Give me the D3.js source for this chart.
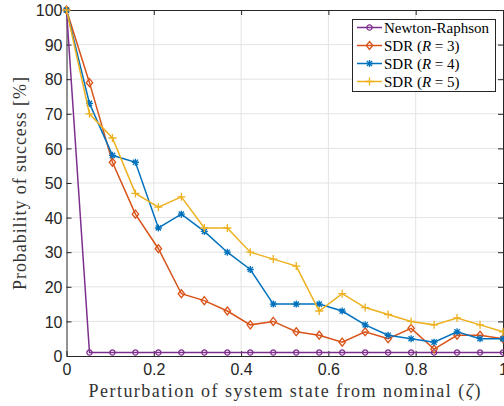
<!DOCTYPE html>
<html>
<head>
<meta charset="utf-8">
<script src="https://cdn.jsdelivr.net/npm/d3@7"></script>
<style>
body { margin: 0; background: #fff; }
svg { display: block; }
</style>
</head>
<body>
<div id="canvas"></div>
<script>
// data (20 perturbation levels, 0..1)
var zeta = d3.range(20).map(function(i){ return i / 19; });
var newton = [100, 1, 1, 1, 1, 1, 1, 1, 1, 1, 1, 1, 1, 1, 1, 1, 1, 1, 1, 1];
var sdr3 = [100, 79, 56, 41, 31, 18, 16, 13, 9, 10, 7, 6, 4, 7, 5, 8, 2, 6, 6, 5];
var sdr4 = [100, 73, 58, 56, 37, 41, 36, 30, 25, 15, 15, 15, 13, 9, 6, 5, 4, 7, 5, 5];
var sdr5 = [100, 70, 63, 47, 43, 46, 37, 37, 30, 28, 26, 13, 18, 14, 12, 10, 9, 11, 9, 7];
var xTicks = [0, 0.2, 0.4, 0.6, 0.8, 1];
var yTicks = [0, 10, 20, 30, 40, 50, 60, 70, 80, 90, 100];

var series = [
    {name:'Newton-Raphson', r:null, values:newton, color:'#7E2F8E', marker:'circle'},
    {name:'SDR', r:3, values:sdr3, color:'#D95319', marker:'diamond'},
    {name:'SDR', r:4, values:sdr4, color:'#0072BD', marker:'asterisk'},
    {name:'SDR', r:5, values:sdr5, color:'#EDB120', marker:'plus'}
];

(function(){
// layout
var W = 504, H = 406;
var pLeft = 66.5, pRight = 503, pTop = 10, pBottom = 356;

var x = d3.scaleLinear().domain([0, 1]).range([pLeft, pRight]);
var y = d3.scaleLinear().domain([0, 100]).range([pBottom, pTop]);

var svg = d3.select('#canvas')
    .append('svg')
    .attr('width', W)
    .attr('height', H);

// grid
svg.append('g').selectAll('line')
    .data(xTicks.slice(1, -1))
    .enter().append('line')
    .attr('x1', function(d){ return x(d); })
    .attr('x2', function(d){ return x(d); })
    .attr('y1', pTop).attr('y2', pBottom)
    .attr('stroke', '#e3e3e3').attr('stroke-width', 1);
svg.append('g').selectAll('line')
    .data(yTicks.slice(1, -1))
    .enter().append('line')
    .attr('y1', function(d){ return y(d); })
    .attr('y2', function(d){ return y(d); })
    .attr('x1', pLeft).attr('x2', pRight)
    .attr('stroke', '#e3e3e3').attr('stroke-width', 1);

// axes (box with inward ticks)
var tick = 5;
var xb = svg.append('g').attr('transform', 'translate(0,' + pBottom + ')')
    .call(d3.axisBottom(x).tickValues(xTicks).tickSizeInner(-tick).tickSizeOuter(0)
        .tickFormat(function(d){ return d === 0 ? '0' : (d === 1 ? '1' : d3.format('.1f')(d)); }));
var xt = svg.append('g').attr('transform', 'translate(0,' + pTop + ')')
    .call(d3.axisTop(x).tickValues(xTicks).tickSizeInner(-tick).tickSizeOuter(0).tickFormat(''));
var yl = svg.append('g').attr('transform', 'translate(' + pLeft + ',0)')
    .call(d3.axisLeft(y).tickValues(yTicks).tickSizeInner(-tick).tickSizeOuter(0));
var yr = svg.append('g').attr('transform', 'translate(' + pRight + ',0)')
    .call(d3.axisRight(y).tickValues(yTicks).tickSizeInner(-tick).tickSizeOuter(0).tickFormat(''));

[xb, xt, yl, yr].forEach(function(g){
    g.select('.domain').attr('stroke', '#262626').attr('stroke-width', 1);
    g.selectAll('.tick line').attr('stroke', '#262626');
    g.selectAll('text')
        .attr('fill', '#262626')
        .style('font-family', '"Liberation Sans", Arial, sans-serif')
        .style('font-size', '16px');
});
xb.selectAll('text').attr('dy', null).attr('y', 19);
yl.selectAll('text').attr('x', -4).attr('dy', '0.36em');

// lines
var line = d3.line()
    .x(function(d){ return x(d[0]); })
    .y(function(d){ return y(d[1]); });

function drawMarker(g, type, color) {
    if (type === 'circle') {
        g.append('circle').attr('r', 2.6)
            .attr('fill', 'none').attr('stroke', color).attr('stroke-width', 1.3);
    } else if (type === 'diamond') {
        g.append('path').attr('d', 'M0,-4L3.2,0L0,4L-3.2,0Z')
            .attr('fill', 'none').attr('stroke', color).attr('stroke-width', 1.3);
    } else if (type === 'asterisk') {
        g.append('path').attr('d', 'M-3.5,0H3.5M0,-3.5V3.5M-2.6,-2.6L2.6,2.6M-2.6,2.6L2.6,-2.6')
            .attr('stroke', color).attr('stroke-width', 1.3);
    } else {
        g.append('path').attr('d', 'M-4,0H4M0,-4V4')
            .attr('stroke', color).attr('stroke-width', 1.3);
    }
}

series.forEach(function(s){
    var pts = zeta.map(function(z, i){ return [z, s.values[i]]; });
    var g = svg.append('g');
    g.append('path')
        .datum(pts)
        .attr('d', line)
        .attr('fill', 'none')
        .attr('stroke', s.color)
        .attr('stroke-width', 1.5);
    g.selectAll('.mk')
        .data(pts)
        .enter().append('g')
        .attr('class', 'mk')
        .attr('transform', function(d){ return 'translate(' + x(d[0]) + ',' + y(d[1]) + ')'; })
        .each(function(){ drawMarker(d3.select(this), s.marker, s.color); });
});

// axis labels
svg.append('text')
    .attr('x', 284.5)
    .attr('y', 397)
    .attr('text-anchor', 'middle')
    .attr('class', 'label')
    .attr('textLength', 392)
    .attr('lengthAdjust', 'spacing')
    .html('Perturbation of system state from nominal (<tspan font-style="italic">ζ</tspan>)');

svg.append('text')
    .attr('transform', 'translate(25.5,183.5) rotate(-90)')
    .attr('text-anchor', 'middle')
    .attr('class', 'label')
    .attr('textLength', 213)
    .attr('lengthAdjust', 'spacing')
    .text('Probability of success [%]');

svg.selectAll('.label')
    .attr('fill', '#333')
    .style('font-family', '"Liberation Serif", "Times New Roman", serif')
    .style('font-size', '18px');

// legend
var lg = svg.append('g');
lg.append('rect')
    .attr('x', 352.5).attr('y', 19.5)
    .attr('width', 143).attr('height', 72)
    .attr('fill', '#fff').attr('stroke', '#262626').attr('stroke-width', 1);

var rows = [27.5, 45.5, 63.5, 81.5];
series.forEach(function(s, i){
    var row = lg.append('g').attr('transform', 'translate(0,' + rows[i] + ')');
    row.append('line')
        .attr('x1', 357).attr('x2', 382)
        .attr('stroke', s.color).attr('stroke-width', 1.5);
    drawMarker(row.append('g').attr('transform', 'translate(369.5,0)'), s.marker, s.color);
    var t = row.append('text')
        .attr('x', 384).attr('dy', '0.35em')
        .attr('fill', '#000')
        .style('font-family', '"Liberation Serif", "Times New Roman", serif')
        .style('font-size', '15px');
    if (s.r === null) {
        t.text(s.name);
    } else {
        t.html(s.name + ' (<tspan font-style="italic">R</tspan> = ' + s.r + ')');
    }
});
})();
</script>
</body>
</html>
